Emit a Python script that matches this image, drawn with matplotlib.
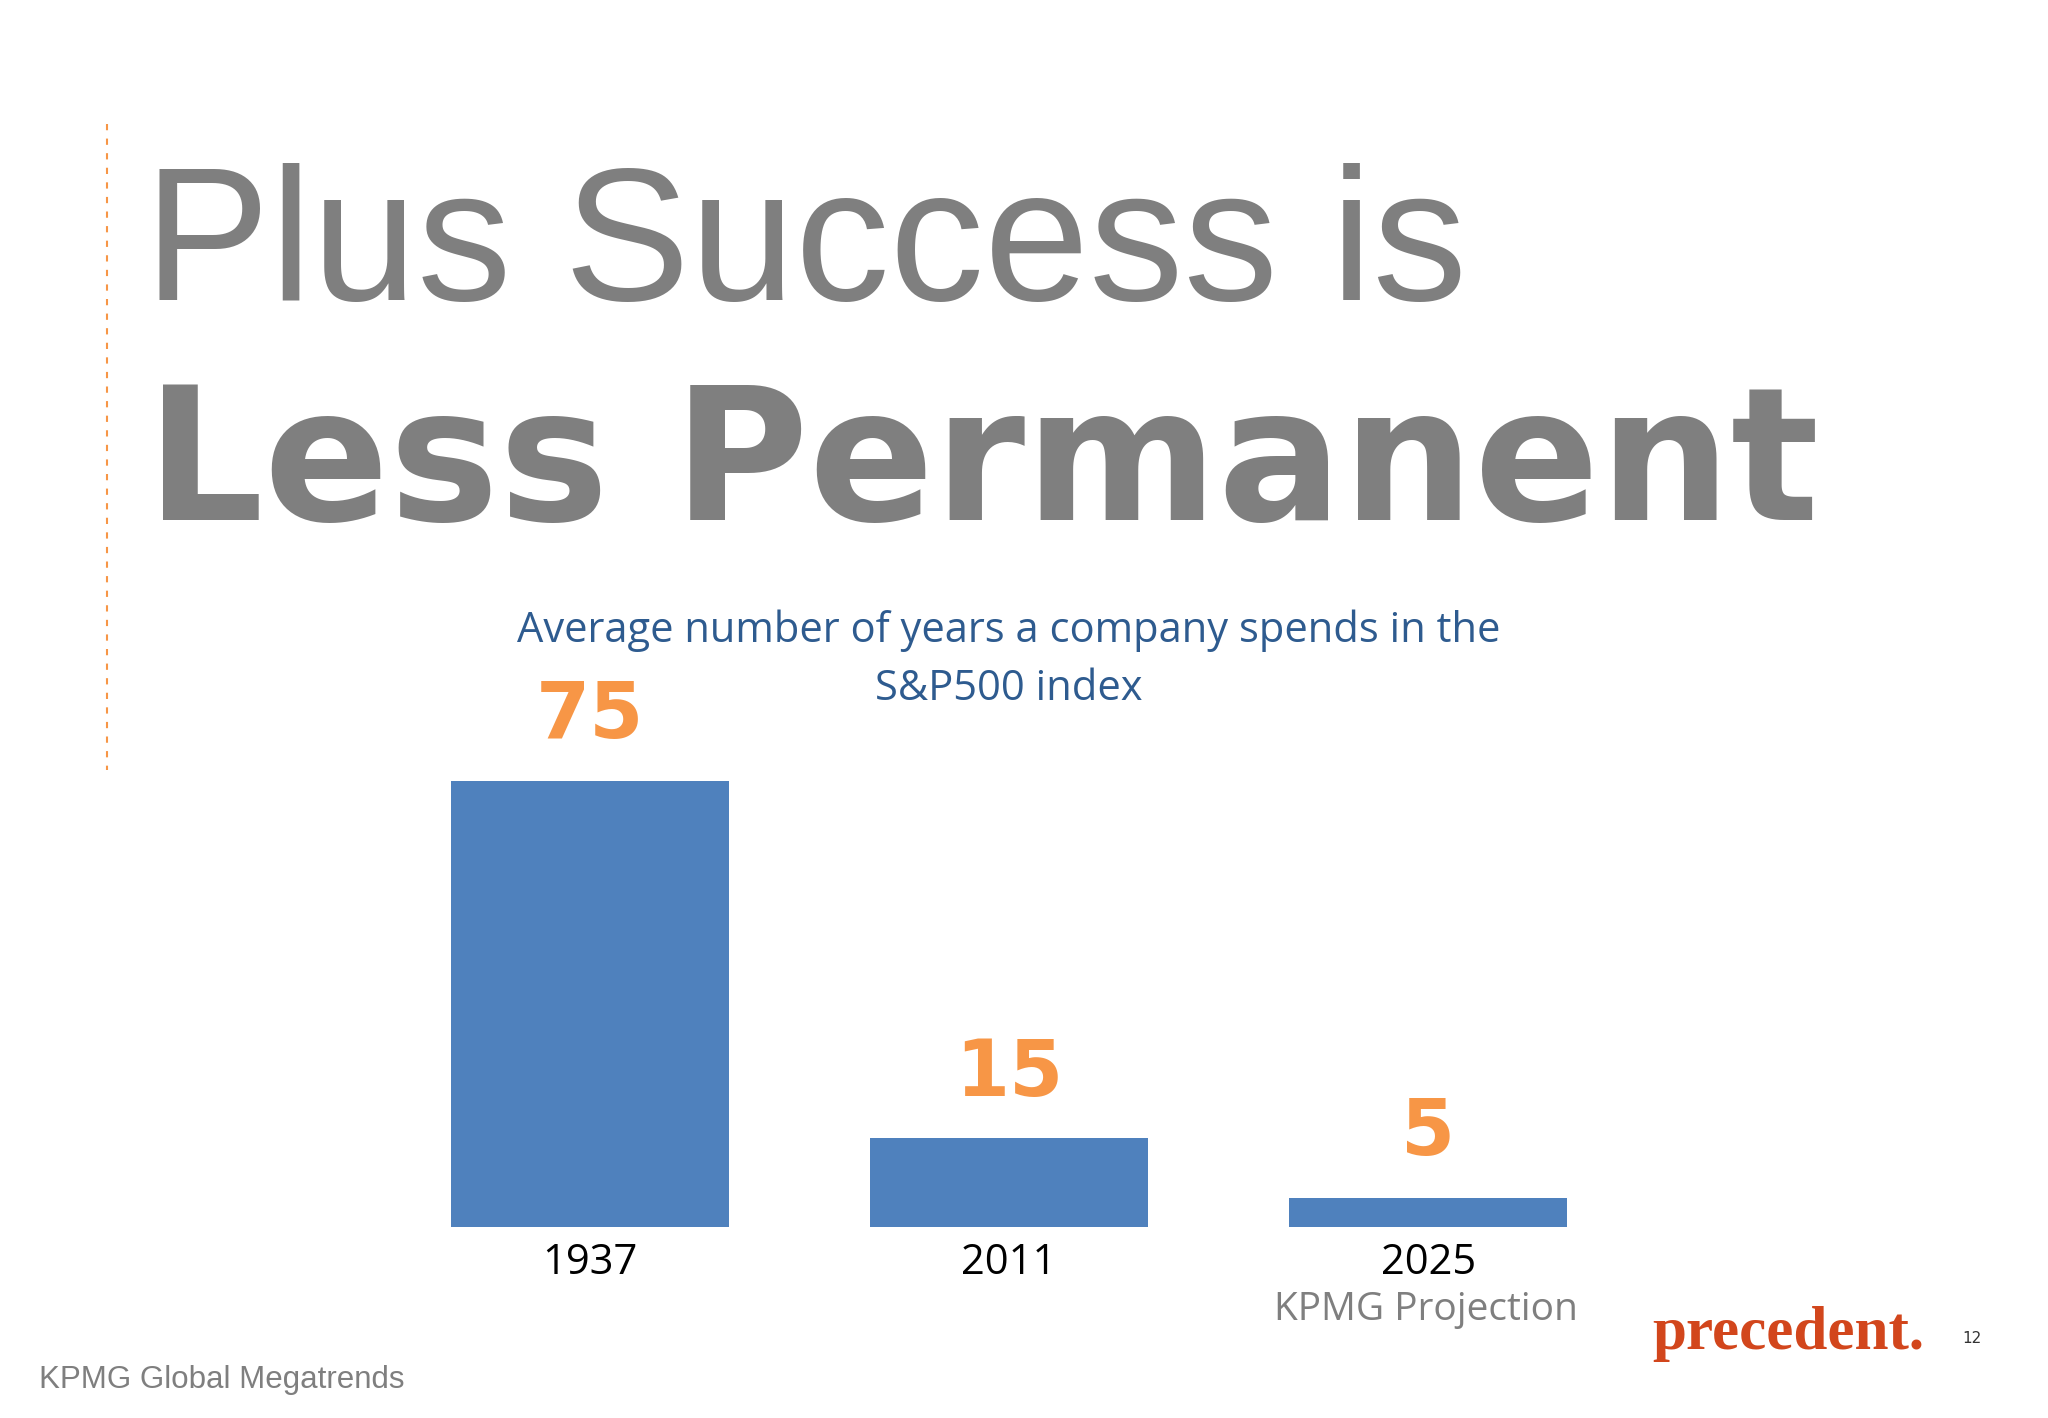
import matplotlib
matplotlib.use("Agg")
import matplotlib.pyplot as plt
from matplotlib.lines import Line2D

years = ["1937", "2011", "2025"]
values = [75, 15, 5]
title1 = "Plus Success is"
title2 = "Less Permanent"
subtitle_lines = ["Average number of years a company spends in the", "S&P500 index"]

W, H = 1568, 1086
fig = plt.figure(figsize=(20.48, 14.18), dpi=100)
fig.patch.set_facecolor("white")

def fx(x): return x / W
def fy(y): return 1 - y / H

gray = "#7f7f7f"
blue = "#4f81bd"
orange = "#f79646"

ax = fig.add_axes([fx(291), fy(940), 963 / W, (940 - 575) / H])
bars = ax.bar(range(3), values, width=0.664, color=blue)
ax.set_xlim(-0.5, 2.5)
ax.set_ylim(0, 80)
ax.axis("off")
ax.bar_label(bars, labels=[str(v) for v in values], padding=19,
             color=orange, fontsize=56, fontweight="heavy", family="DejaVu Sans")
for i, y in enumerate(years):
    ax.text(i, -2.4, y, ha="center", va="top", fontsize=30, family="Open Sans", color="black")

fig.text(fx(1092), fy(1003), "KPMG Projection", ha="center", va="center",
         fontsize=28, family="Open Sans", color=gray)
fig.text(fx(772), fy(483), subtitle_lines[0], ha="center", va="center", fontsize=30,
         family="Open Sans", color="#2e5b8f")
fig.text(fx(772), fy(528), subtitle_lines[1], ha="center", va="center", fontsize=30,
         family="Open Sans", color="#2e5b8f")

fig.text(fx(110), fy(230), title1, ha="left", va="baseline", fontsize=136,
         family="Liberation Sans", color=gray)
fig.text(fx(112), fy(398), title2, ha="left", va="baseline", fontsize=133,
         family="DejaVu Sans", fontweight="bold", color=gray)

fig.add_artist(Line2D([fx(82), fx(82)], [fy(95), fy(590)], transform=fig.transFigure,
                      color=orange, linestyle=(0, (3, 4)), linewidth=1.5))

fig.text(fx(1265), fy(1022), "precedent.", ha="left", va="center", fontsize=44,
         family="Liberation Serif", fontweight="bold", color="#d2461c")
fig.text(fx(1510), fy(1025), "12", ha="center", va="center", fontsize=11, color="#333333")
fig.text(fx(30), fy(1057), "KPMG Global Megatrends", ha="left", va="center",
         fontsize=22.5, family="Liberation Sans", color=gray)

fig.savefig("out.png", dpi=100, facecolor="white")
